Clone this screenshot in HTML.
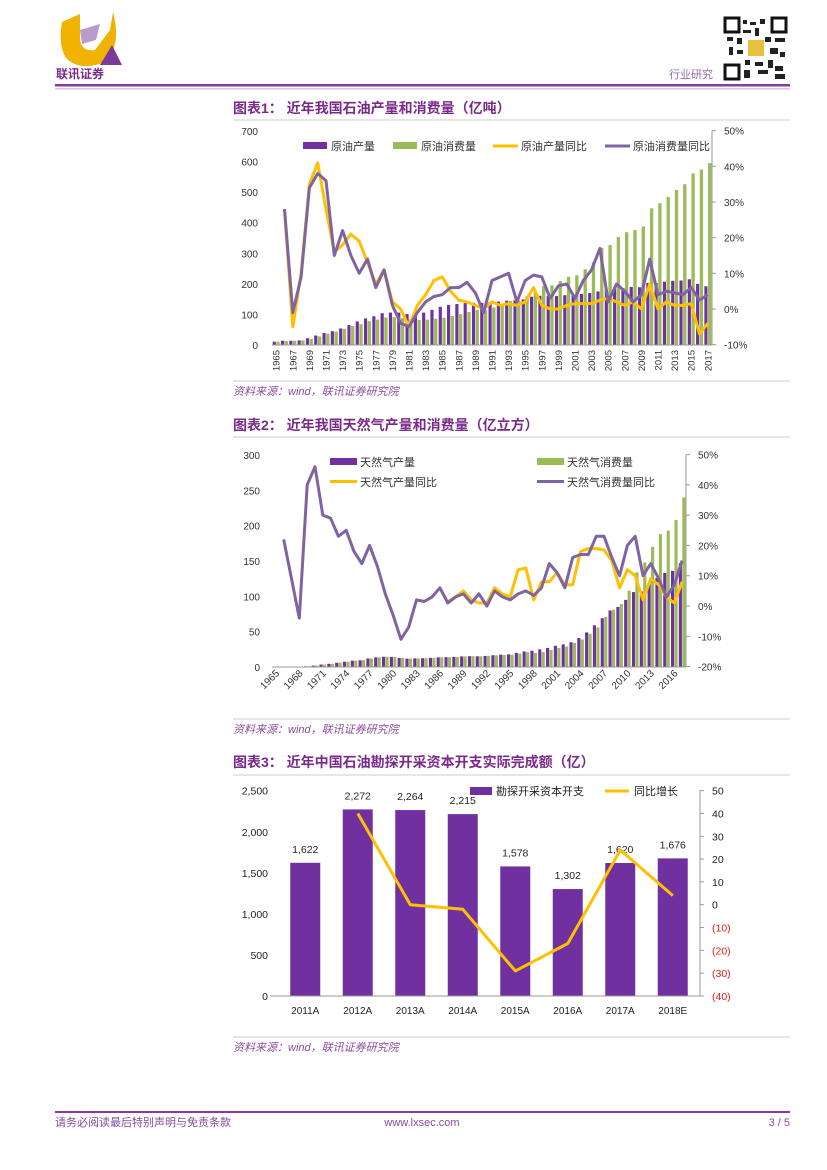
<!DOCTYPE html>
<html><head><meta charset="utf-8"><style>
body{margin:0;background:#fff;}
svg{display:block;font-family:"Liberation Sans","Noto Sans CJK SC",sans-serif;}
</style></head><body>
<svg id="pg" width="827" height="1170" viewBox="0 0 827 1170" xmlns="http://www.w3.org/2000/svg">
<g>
 <g>
  <path d="M62 22 L80 14 L80 40 Q82 52 95 50 L110 30 L113 12 Q122 45 105 62 Q80 72 66 58 Q58 45 62 22Z" fill="#f0b400"/>
  <path d="M80 30 L100 24 L96 40 L82 44Z" fill="#b79ccc"/>
  <path d="M112 45 L122 65 L100 65Z" fill="#7a3a9a"/>
 </g>
 <text x="56" y="78" font-size="12" fill="#7a2a8a" font-weight="bold">联讯证券</text>
 <text x="669" y="78" font-size="11" fill="#9a6aa8">行业研究</text>
 <g>
  <rect x="724" y="17" width="63" height="63" fill="#fff"/>
  <rect x="725" y="18" width="14" height="14" fill="none" stroke="#111" stroke-width="3"/>
  <rect x="772" y="18" width="14" height="14" fill="none" stroke="#111" stroke-width="3"/>
  <rect x="725" y="65" width="14" height="14" fill="none" stroke="#111" stroke-width="3"/>
  <path d="M743 20h4v4h-4zM750 22h6v3h-6zM760 19h5v5h-5zM743 30h8v3h-8zM755 28h4v8h-4zM727 37h6v4h-6zM737 38h5v6h-5zM765 37h6v5h-6zM775 38h10v4h-10zM729 47h4v8h-4zM737 50h6v4h-6zM770 48h8v6h-8zM780 52h5v5h-5zM745 60h5v5h-5zM755 62h8v4h-8zM768 60h5v8h-5zM744 70h6v8h-6zM758 70h10v4h-10zM775 66h8v5h-8zM775 74h10v5h-10z" fill="#222"/>
  <rect x="748" y="40" width="16" height="16" fill="#e8c040"/>
 </g>
 <rect x="55" y="84" width="735" height="2.5" fill="#8a3a9a"/>
 <rect x="55" y="88.5" width="735" height="0.8" fill="#b08abf"/>
</g>

<g id="c1">
 <text x="233" y="113" font-size="14" font-weight="bold" fill="#7a2a8a">图表1：  近年我国石油产量和消费量（亿吨）</text>
 <line x1="233" y1="120" x2="790" y2="120" stroke="#ccc"/>
 <line x1="233" y1="381" x2="790" y2="381" stroke="#ccc"/>
 <text x="233" y="395" font-size="11" font-style="italic" fill="#8a4a9a">资料来源：wind，联讯证券研究院</text>
</g>
<g id="c2">
 <text x="233" y="430" font-size="14" font-weight="bold" fill="#7a2a8a">图表2：  近年我国天然气产量和消费量（亿立方）</text>
 <line x1="233" y1="437" x2="790" y2="437" stroke="#ccc"/>
 <line x1="233" y1="719" x2="790" y2="719" stroke="#ccc"/>
 <text x="233" y="733" font-size="11" font-style="italic" fill="#8a4a9a">资料来源：wind，联讯证券研究院</text>
</g>
<g id="c3">
 <text x="233" y="767" font-size="14" font-weight="bold" fill="#7a2a8a">图表3：  近年中国石油勘探开采资本开支实际完成额（亿）</text>
 <line x1="233" y1="775" x2="790" y2="775" stroke="#ccc"/>
 <line x1="233" y1="1037" x2="790" y2="1037" stroke="#ccc"/>
 <text x="233" y="1051" font-size="11" font-style="italic" fill="#8a4a9a">资料来源：wind，联讯证券研究院</text>
</g>
<g>
 <rect x="55" y="1111" width="735" height="2" fill="#8a3a9a"/>
 <text x="55" y="1126" font-size="11" fill="#8a4a9a">请务必阅读最后特别声明与免责条款</text>
 <text x="422" y="1126" font-size="11" fill="#8a4a9a" text-anchor="middle">www.lxsec.com</text>
 <text x="790" y="1126" font-size="11" fill="#8a4a9a" text-anchor="end">3 / 5</text>
</g>
</svg>
<script>
const oilYears=[];for(let y=1965;y<=2017;y++)oilYears.push(y);
const oilProd=[11,14,14,15,22,31,39,45,54,65,77,87,94,104,106,106,101,102,106,115,125,131,134,137,138,138,141,142,145,146,149,158,161,161,160,163,164,167,170,175,181,184,186,190,189,203,203,207,210,211,215,200,192];
const oilCons=[11,13,14,15,20,28,37,44,53,62,68,78,83,90,91,88,84,82,83,86,89,95,101,108,115,114,123,132,144,146,160,174,193,195,209,223,228,248,271,318,327,353,369,376,388,447,464,484,507,526,561,574,595];
const oilProdYoY=[null,28,-5,10,35,41,28,16,18,21,19,13,7,11,2,0,-5,1,4,8,9,5,2.5,2,1,0,2,1,1.5,1,2,6,1,0,0,1,1.5,1.5,1.5,2.5,3,2,1,2,0,7,0,2,1,1,1.5,-7,-4];
const oilConsYoY=[null,28,-1,9,34,38,36,15,22,15,10,14,6,11,1,-4,-5,-1,2,3.5,4,6,6,7.5,4.5,-1,8,9,10,2,8,9.5,9,3,6.5,7,3,8,11,17,2,7,5,2,4,14,4,5,4.5,4,6,2.5,4];
const oilLeftTicks=[0,100,200,300,400,500,600,700];
const oilRightTicks=[-10,0,10,20,30,40,50];

const gasYears=oilYears.slice();
const gasProd=[0.5,0.6,0.6,0.6,1,2,3.5,4.5,6,7.5,9,9.5,12,13.7,14.5,14.3,12.7,11.9,12.2,12.4,12.9,13.7,13.9,14.3,15,15.3,15.2,15.7,16.7,17.5,17.9,20,22,23,25,27,30,32,35,41,49,59,69,80,85,95,106,107,118,126,133,136,147];
const gasCons=[0.5,0.6,0.6,0.6,1,2,3.5,4.5,6,7.5,9,9.5,12,13.7,14.5,14.3,12.7,11.9,12.2,12.4,12.9,13.7,13.9,14.3,15,15.3,15.2,15.7,16.5,17,17.5,19,21,20,21,24,27,29,34,39,47,56,71,81,89,108,134,148,170,188,193,208,240];
const gasProdYoY=[null,null,null,null,null,null,null,null,null,null,null,null,null,null,null,null,null,null,null,null,null,null,1.5,3,5,2,1,1,6,4,3,12,12.5,2,8,8,11,7,7,18,19,19,18.5,15,6,12,10,2,9,7,3,1,8];
const gasConsYoY=[null,22,9,-4,40,46,30,29,23,25,18,14,20,13,4,-3,-11,-7,2,1.5,3,6,1,3,4,1,4,0,5,3,2,4,5,3.5,6,14,11,6,16,17,17,23,23,16,10,20,23,10,14,9,3,7,15];
const gasLeftTicks=[0,50,100,150,200,250,300];
const gasRightTicks=[-20,-10,0,10,20,30,40,50];

const capexCats=['2011A','2012A','2013A','2014A','2015A','2016A','2017A','2018E'];
const capexVals=[1622,2272,2264,2215,1578,1302,1620,1676];
const capexYoY=[null,40,0,-2,-29,-17,24,4];
const capexLeftTicks=[0,500,1000,1500,2000,2500];
const capexRightTicks=[-40,-30,-20,-10,0,10,20,30,40,50];

const NS='http://www.w3.org/2000/svg';
function mk(parent,tag,attrs,text){const e=document.createElementNS(NS,tag);for(const k in attrs)e.setAttribute(k,attrs[k]);if(text!==undefined)e.textContent=text;parent.appendChild(e);return e;}
const PUR='#7030a0',GRN='#9bbb59',YEL='#ffc000',LPUR='#8064a2';

function linePath(g,vals,xf,yf,color,name){
  let d='';let pen=false;
  vals.forEach((v,i)=>{if(v===null){pen=false;return;}d+=(pen?'L':'M')+xf(i).toFixed(1)+' '+yf(v).toFixed(1);pen=true;});
  const p=mk(g,'path',{d:d,fill:'none',stroke:color,'stroke-width':3,'stroke-linejoin':'round'});
  
  
}

// ---------- chart 1 ----------
(function(){
  const g=document.getElementById('c1');
  const x0=272,x1=712,n=oilYears.length,bw=(x1-x0)/n;
  const yL=v=>345-v*(214/700);
  const yR=v=>309-v*(214/60);
  const xc=i=>x0+bw*(i+0.5);
  oilLeftTicks.forEach(t=>{const e=mk(g,'text',{x:258,y:yL(t)+4,'font-size':10,'text-anchor':'end',fill:'#333'},t);});
  oilRightTicks.forEach(t=>{const e=mk(g,'text',{x:724,y:yR(t)+4,'font-size':10,fill:'#333'},t+'%');mk(g,'line',{x1:712,x2:716,y1:yR(t),y2:yR(t),stroke:'#999'});});
  mk(g,'line',{x1:712,x2:712,y1:131,y2:345,stroke:'#999'});
  oilYears.forEach((y,i)=>{
    const a=mk(g,'rect',{x:xc(i)-bw*0.42,y:yL(oilProd[i]),width:bw*0.38,height:345-yL(oilProd[i]),fill:PUR});
    
    const b=mk(g,'rect',{x:xc(i)+0.2,y:yL(oilCons[i]),width:bw*0.4,height:345-yL(oilCons[i]),fill:GRN});
    
    if(i%2===0){const t=mk(g,'text',{x:0,y:0,'font-size':9.5,'text-anchor':'end',fill:'#333',transform:`translate(${xc(i)+3.5},350) rotate(-90)`},y);}
  });
  mk(g,'line',{x1:x0,x2:x1,y1:345,y2:345,stroke:'#999'});
  linePath(g,oilProdYoY,xc,yR,YEL,'line-oil-production-yoy');
  linePath(g,oilConsYoY,xc,yR,LPUR,'line-oil-consumption-yoy');
  const L=[[303,'rect',PUR,'原油产量'],[393,'rect',GRN,'原油消费量'],[493,'line',YEL,'原油产量同比'],[605,'line',LPUR,'原油消费量同比']];
  L.forEach(l=>{const lg=mk(g,'g',{});
    if(l[1]==='rect')mk(lg,'rect',{x:l[0],y:142,width:24,height:7,fill:l[2]});else mk(lg,'line',{x1:l[0],x2:l[0]+25,y1:146,y2:146,stroke:l[2],'stroke-width':3});
    mk(lg,'text',{x:l[0]+28,y:150,'font-size':11,fill:'#333'},l[3]);});
})();

// ---------- chart 2 ----------
(function(){
  const g=document.getElementById('c2');
  const x0=272,x1=686,n=gasYears.length,bw=(x1-x0)/n;
  const yL=v=>667-v*(212/300);
  const yR=v=>606-v*(212/70);
  const xc=i=>x0+bw*(i+0.5);
  gasLeftTicks.forEach(t=>{const e=mk(g,'text',{x:260,y:yL(t)+4,'font-size':10,'text-anchor':'end',fill:'#333'},t);});
  gasRightTicks.forEach(t=>{const e=mk(g,'text',{x:698,y:yR(t)+4,'font-size':10,fill:'#333'},t+'%');mk(g,'line',{x1:686,x2:690,y1:yR(t),y2:yR(t),stroke:'#999'});});
  mk(g,'line',{x1:686,x2:686,y1:455,y2:667,stroke:'#999'});
  gasYears.forEach((y,i)=>{
    const a=mk(g,'rect',{x:xc(i)-bw*0.42,y:yL(gasProd[i]),width:bw*0.4,height:667-yL(gasProd[i]),fill:PUR});
    
    const b=mk(g,'rect',{x:xc(i)+0.2,y:yL(gasCons[i]),width:bw*0.4,height:667-yL(gasCons[i]),fill:GRN});
    
    if(i%3===0){const t=mk(g,'text',{x:0,y:0,'font-size':10,'text-anchor':'end',fill:'#333',transform:`translate(${xc(i)+4},674) rotate(-45)`},y);}
  });
  mk(g,'line',{x1:x0,x2:x1,y1:667,y2:667,stroke:'#999'});
  linePath(g,gasProdYoY,xc,yR,YEL,'line-gas-production-yoy');
  linePath(g,gasConsYoY,xc,yR,LPUR,'line-gas-consumption-yoy');
  const L=[[330,458,'rect',PUR,'天然气产量'],[537,458,'rect',GRN,'天然气消费量'],[330,478,'line',YEL,'天然气产量同比'],[537,478,'line',LPUR,'天然气消费量同比']];
  L.forEach(l=>{const lg=mk(g,'g',{});
    if(l[2]==='rect')mk(lg,'rect',{x:l[0],y:l[1],width:27,height:7,fill:l[3]});else mk(lg,'line',{x1:l[0],x2:l[0]+27,y1:l[1]+3.5,y2:l[1]+3.5,stroke:l[3],'stroke-width':3});
    mk(lg,'text',{x:l[0]+30,y:l[1]+8,'font-size':11,fill:'#333'},l[4]);});
})();

// ---------- chart 3 ----------
(function(){
  const g=document.getElementById('c3');
  const x0=279,bw=52.5;
  const yL=v=>996-v*(205.3/2500);
  const yR=v=>904.7-v*(205.3/90);
  const xc=i=>x0+bw*(i+0.5);
  capexLeftTicks.forEach(t=>{const e=mk(g,'text',{x:268,y:yL(t)+4,'font-size':10.5,'text-anchor':'end',fill:'#222'},t.toLocaleString('en-US'));});
  capexRightTicks.forEach(t=>{const e=mk(g,'text',{x:712,y:yR(t)+4,'font-size':10.5,fill:t<0?'#e0201a':'#222'},t<0?'('+(-t)+')':t);mk(g,'line',{x1:700,x2:704,y1:yR(t),y2:yR(t),stroke:'#999'});});
  mk(g,'line',{x1:700,x2:700,y1:790,y2:996,stroke:'#999'});
  capexCats.forEach((c,i)=>{
    const r=mk(g,'rect',{x:xc(i)-15,y:yL(capexVals[i]),width:30,height:996-yL(capexVals[i]),fill:PUR});
    
    const v=mk(g,'text',{x:xc(i),y:yL(capexVals[i])-10,'font-size':10.5,'text-anchor':'middle',fill:'#222'},capexVals[i].toLocaleString('en-US'));
    
    const t=mk(g,'text',{x:xc(i),y:1014,'font-size':10,'text-anchor':'middle',fill:'#222'},c);
    
  });
  mk(g,'line',{x1:270,x2:700,y1:996,y2:996,stroke:'#999'});
  linePath(g,capexYoY,xc,yR,YEL,'line-capex-yoy');
  const l1=mk(g,'g',{});
  mk(l1,'rect',{x:470,y:787,width:22,height:8,fill:PUR});mk(l1,'text',{x:496,y:795,'font-size':11,fill:'#222'},'勘探开采资本开支');
  const l2=mk(g,'g',{});
  mk(l2,'line',{x1:605,x2:629,y1:791,y2:791,stroke:YEL,'stroke-width':3});mk(l2,'text',{x:634,y:795,'font-size':11,fill:'#222'},'同比增长');
})();
</script>
</body></html>
